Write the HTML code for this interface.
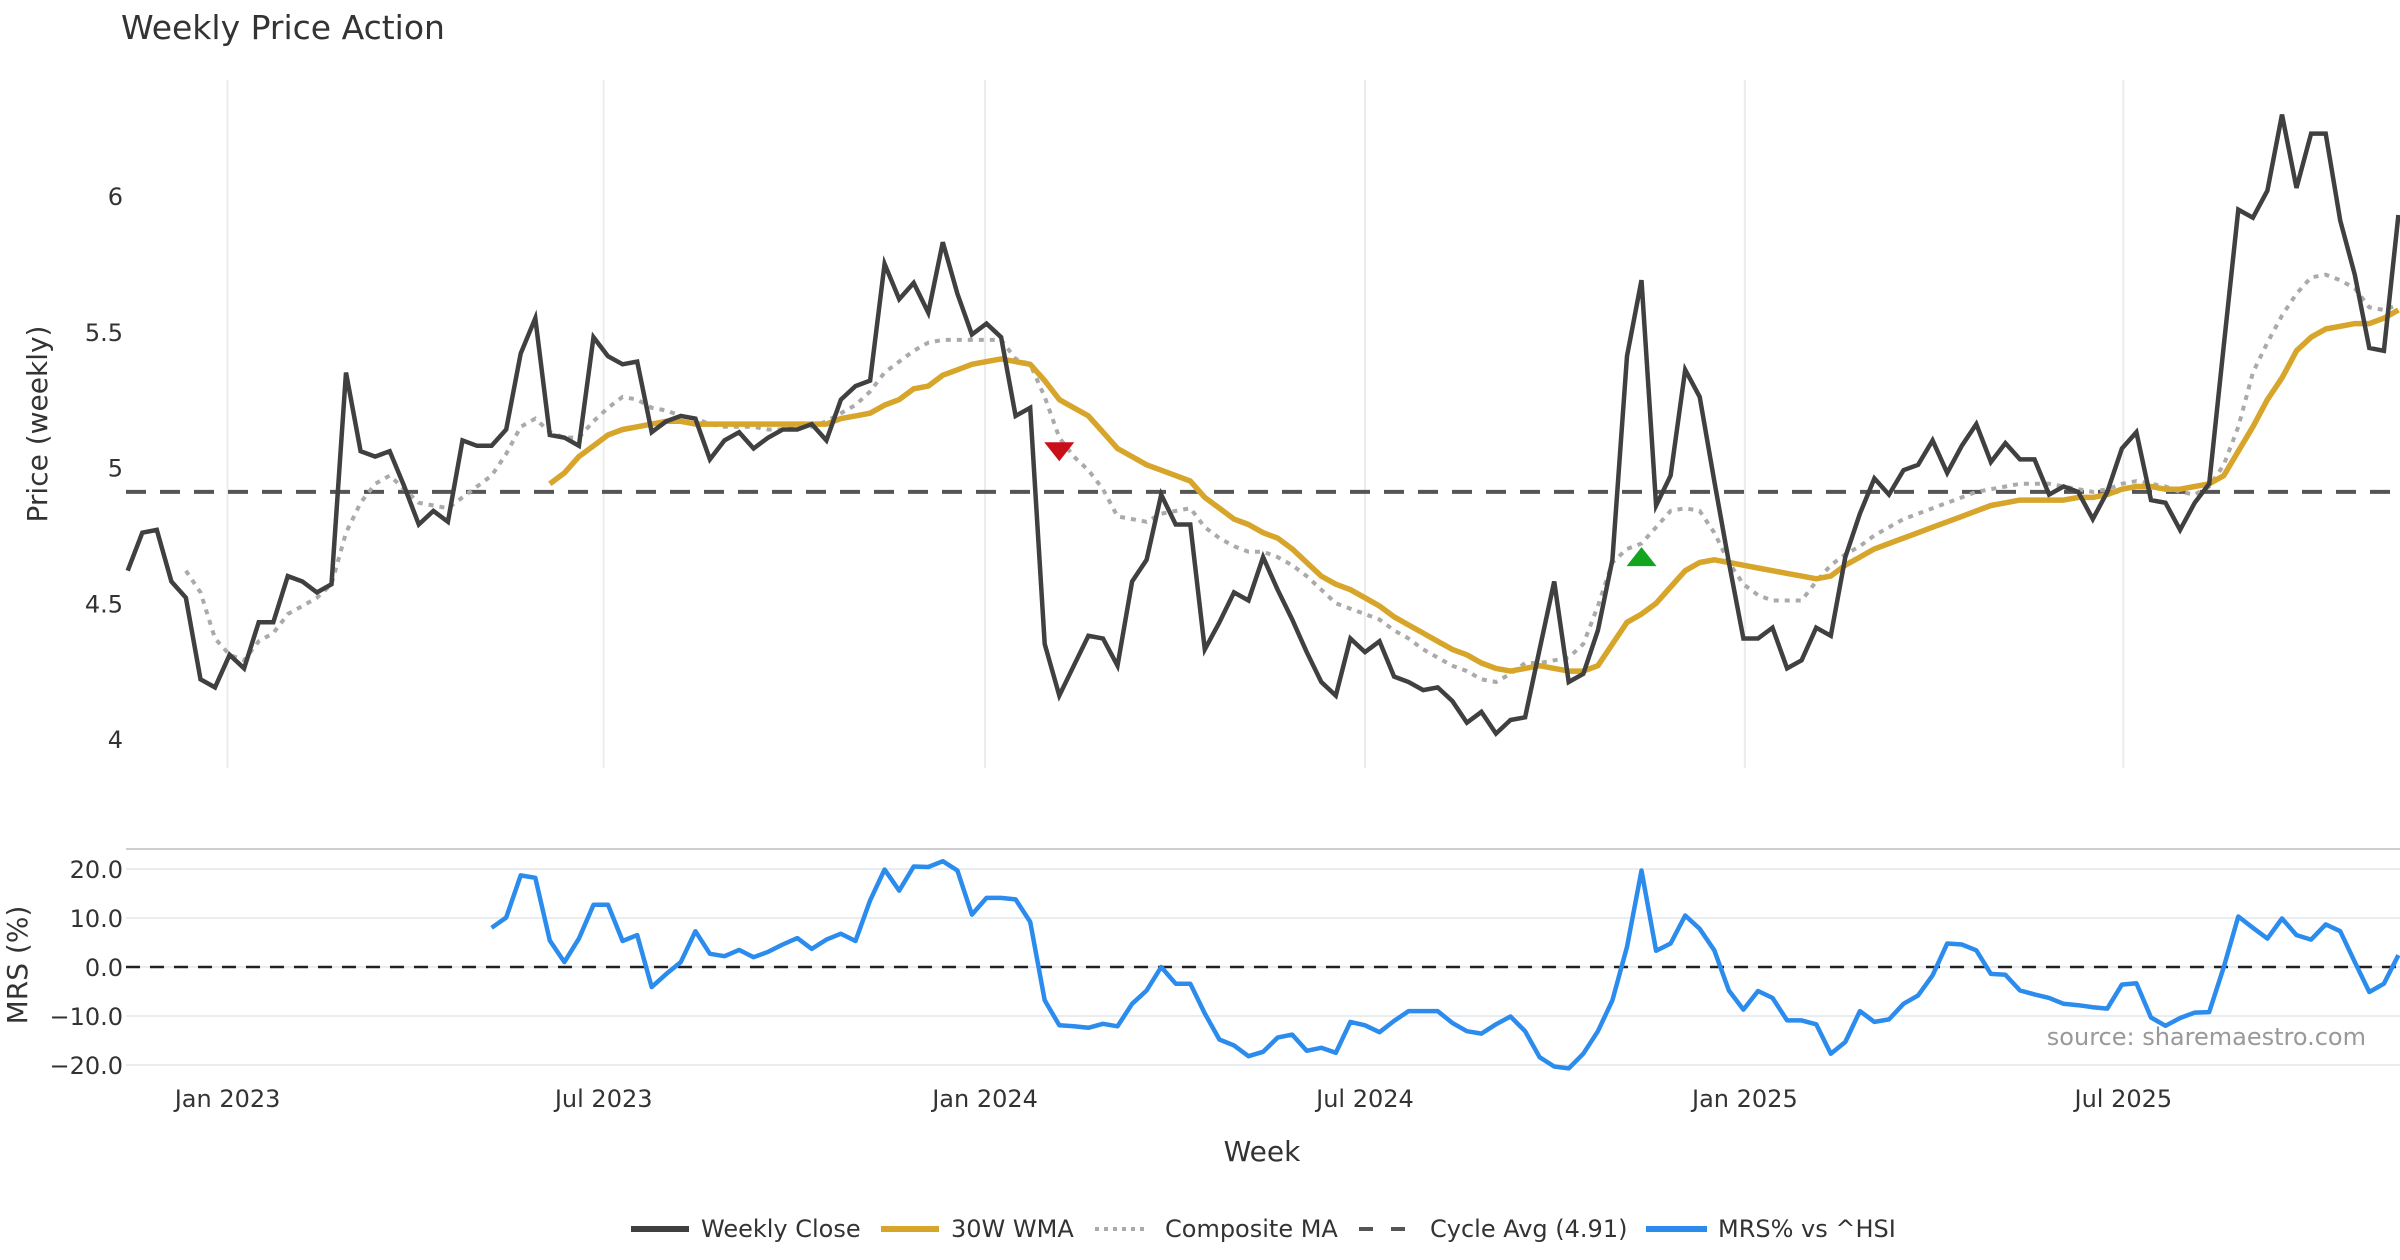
<!DOCTYPE html>
<html><head><meta charset="utf-8"><style>
html,body{margin:0;padding:0;background:#fff;}
svg{display:block;font-family:"DejaVu Sans","Liberation Sans",sans-serif;}
</style></head><body>
<svg id="chart" width="2400" height="1260" viewBox="0 0 2400 1260" xmlns="http://www.w3.org/2000/svg">
<rect width="2400" height="1260" fill="#fff"/>
<text x="121" y="39" font-size="33" fill="#333">Weekly Price Action</text>
<g id="grid"></g>
<g id="series"></g>
<g id="axes"></g>
<text transform="translate(47,424) rotate(-90)" text-anchor="middle" font-size="28" fill="#333">Price (weekly)</text>
<text transform="translate(27,965) rotate(-90)" text-anchor="middle" font-size="28" fill="#333">MRS (%)</text>
<text x="1262" y="1161" text-anchor="middle" font-size="28" fill="#333">Week</text>
<text x="2366" y="1045" text-anchor="end" font-size="24" fill="#999">source: sharemaestro.com</text>
<g id="legend" font-size="24" fill="#333">
<g><line x1="631" y1="1229" x2="689" y2="1229" stroke="#404040" stroke-width="6"/><text x="701" y="1237">Weekly Close</text></g>
<g><line x1="881" y1="1229" x2="939" y2="1229" stroke="#d6a52a" stroke-width="6"/><text x="951" y="1237">30W WMA</text></g>
<g><line x1="1095" y1="1229" x2="1149" y2="1229" stroke="#aaa" stroke-width="4" stroke-dasharray="4,5"/><text x="1165" y="1237">Composite MA</text></g>
<g><line x1="1359" y1="1229" x2="1412" y2="1229" stroke="#555" stroke-width="4" stroke-dasharray="14,18"/><text x="1430" y="1237">Cycle Avg (4.91)</text></g>
<g><line x1="1646" y1="1229" x2="1707" y2="1229" stroke="#2b8ced" stroke-width="6"/><text x="1718" y="1237">MRS% vs ^HSI</text></g>
</g>
</svg>
<script>
const closeStart = 0;
const closeValues = [4.62,4.76,4.77,4.58,4.52,4.22,4.19,4.31,4.26,4.43,4.43,4.60,4.58,4.54,4.57,5.35,5.06,5.04,5.06,4.93,4.79,4.84,4.80,5.10,5.08,5.08,5.14,5.42,5.55,5.12,5.11,5.08,5.48,5.41,5.38,5.39,5.13,5.17,5.19,5.18,5.03,5.10,5.13,
5.07,5.11,5.14,5.14,5.16,5.10,5.25,5.30,5.32,5.75,5.62,5.68,5.57,5.83,5.64,5.49,5.53,5.48,5.19,5.22,4.35,4.16,4.27,4.38,4.37,4.27,4.58,4.66,4.90,4.79,4.79,4.33,4.43,4.54,4.51,4.67,4.55,4.44,4.32,4.21,4.16,
4.37,4.32,4.36,4.23,4.21,4.18,4.19,4.14,4.06,4.10,4.02,4.07,4.08,4.33,4.58,4.21,4.24,4.40,4.66,5.41,5.69,4.86,4.97,5.36,5.26,4.95,4.65,4.37,4.37,4.41,4.26,4.29,4.41,4.38,4.67,4.83,4.96,4.90,4.99,5.01,5.10,
4.98,5.08,5.16,5.02,5.09,5.03,5.03,4.90,4.93,4.91,4.81,4.91,5.07,5.13,4.88,4.87,4.77,4.87,4.94,5.45,5.95,5.92,6.02,6.30,6.03,6.23,6.23,5.91,5.71,5.44,5.43,5.93];
const compositeStart = 4;
const compositeValues = [4.62,4.54,4.37,4.31,4.29,4.36,4.39,4.46,4.49,4.52,4.57,4.76,4.87,4.94,4.97,4.92,4.87,4.86,4.85,4.89,4.93,4.97,5.05,5.15,5.18,5.13,5.11,5.11,5.17,5.22,5.26,5.25,5.22,5.21,5.19,5.18,5.16,5.15,5.15,5.15,5.14,5.14,5.15,5.15,5.17,5.20,5.23,5.28,5.35,5.39,5.43,5.46,5.47,5.47,5.47,5.47,5.47,5.40,5.38,5.26,5.11,5.04,4.99,4.92,4.82,4.81,4.80,4.83,4.84,4.85,4.78,4.74,4.71,4.69,4.69,4.67,4.64,4.60,4.55,4.50,4.48,4.46,4.44,4.40,4.37,4.33,4.30,4.27,4.25,4.22,4.21,4.24,4.28,4.28,4.29,4.30,4.35,4.49,4.65,4.70,4.72,4.78,4.84,4.85,4.84,4.76,4.65,4.57,4.53,4.51,4.51,4.51,4.58,4.64,4.68,4.71,4.75,4.78,4.81,4.83,4.85,4.87,4.89,4.91,4.92,4.93,4.94,4.94,4.94,4.93,4.92,4.91,4.92,4.94,4.95,4.94,4.93,4.91,4.90,4.93,5.01,5.15,5.35,5.46,5.56,5.64,5.70,5.71,5.69,5.66,5.59,5.58,5.60];
const wmaStart = 29;
const wmaValues = [4.94,4.98,5.04,5.08,5.12,5.14,5.15,5.16,5.17,5.17,5.16,5.16,5.16,5.16,5.16,5.16,5.16,5.16,5.16,5.16,5.18,5.19,5.20,5.23,5.25,5.29,5.30,5.34,5.36,5.38,5.39,5.40,5.39,5.38,5.32,5.25,5.22,5.19,5.13,5.07,5.04,5.01,4.99,4.97,4.95,4.89,4.85,4.81,4.79,4.76,4.74,4.70,4.65,4.60,4.57,4.55,4.52,4.49,4.45,4.42,4.39,4.36,4.33,4.31,4.28,4.26,4.25,4.26,4.27,4.26,4.25,4.25,4.27,4.35,4.43,4.46,4.50,4.56,4.62,4.65,4.66,4.65,4.64,4.63,4.62,4.61,4.60,4.59,4.60,4.64,4.67,4.70,4.72,4.74,4.76,4.78,4.80,4.82,4.84,4.86,4.87,4.88,4.88,4.88,4.88,4.89,4.89,4.90,4.92,4.93,4.93,4.92,4.92,4.93,4.94,4.97,5.06,5.15,5.25,5.33,5.43,5.48,5.51,5.52,5.53,5.53,5.55,5.58];
const mrsStart = 25;
const mrsValues = [8.0,10.1,18.7,18.2,5.4,1.0,5.8,12.7,12.7,5.3,6.5,-4.1,-1.4,1.0,7.3,2.7,2.2,3.5,2.0,3.1,4.6,5.9,3.7,5.6,6.8,5.3,13.6,19.9,15.6,20.5,20.4,21.6,19.7,10.7,14.1,14.1,13.8,9.2,-6.8,-11.9,-12.1,-12.4,-11.6,-12.1,-7.5,-4.8,0,-3.4,-3.4,
-9.5,-14.8,-16.0,-18.2,-17.3,-14.4,-13.8,-17.1,-16.5,-17.5,-11.2,-11.9,-13.3,-11.0,-9.0,-9.0,-9.0,-11.4,-13.1,-13.6,-11.7,-10.1,-13.1,-18.4,-20.3,-20.7,-17.7,-13.1,-6.8,4.1,19.7,3.3,4.8,10.5,7.8,3.4,-4.8,-8.7,-4.9,-6.3,-10.9,-10.9,-11.7,-17.7,-15.3,-9.0,-11.2,-10.7,-7.5,-5.8,-1.7,4.8,4.6,3.4,-1.4,-1.6,-4.8,-5.6,-6.3,-7.5,-7.8,-8.2,-8.5,-3.6,-3.3,-10.3,-12.0,-10.4,-9.3,-9.2,0,10.3,8.0,5.8,9.9,6.5,5.6,8.7,7.3,1.0,-5.1,-3.4,2.4];
const cycleAvg = 4.91;
const sellSignalWeek = 64, sellSignalPrice = 5.06;
const buySignalWeek = 104, buySignalPrice = 4.67;
const priceTicks = [4, 4.5, 5, 5.5, 6];
const priceTickLabels = ["4","4.5","5","5.5","6"];
const mrsTicks = [-20, -10, 0, 10, 20];
const mrsTickLabels = ["\u221220.0","\u221210.0","0.0","10.0","20.0"];
const monthTickWeeks = [6.86, 32.7, 58.9, 85.0, 111.1, 137.1];
const monthTickLabels = ["Jan 2023","Jul 2023","Jan 2024","Jul 2024","Jan 2025","Jul 2025"];

const NS = "http://www.w3.org/2000/svg";
const X0 = 127.7, XSTEP = 14.556, PLOT_R = 2400;
function xScale(w){ return X0 + w * XSTEP; }
function yPrice(p){ return 196 + (6 - p) * 271.5; }
function yMrs(v){ return 967 - v * 4.9; }
function mk(tag, attrs, parent){
  const el = document.createElementNS(NS, tag);
  for (const k in attrs) el.setAttribute(k, attrs[k]);
  parent.appendChild(el);
  return el;
}
const grid = document.getElementById('grid');
const series = document.getElementById('series');
const axes = document.getElementById('axes');

// vertical gridlines in price panel + x tick labels
monthTickWeeks.forEach((w, i) => {
  const x = xScale(w);
  const g = mk('line', {x1:x, y1:80, x2:x, y2:768, stroke:'#ececec', 'stroke-width':2}, grid);
  
  
  const t = mk('text', {x:x, y:1107, 'text-anchor':'middle', 'font-size':24, fill:'#333'}, axes);
  t.textContent = monthTickLabels[i];
  
  
});
// price ticks
priceTicks.forEach((p, i) => {
  const t = mk('text', {x:123, y:yPrice(p) + 9, 'text-anchor':'end', 'font-size':24, fill:'#333'}, axes);
  t.textContent = priceTickLabels[i];
  
  
});
// mrs gridlines + ticks
mrsTicks.forEach((v, i) => {
  const y = yMrs(v);
  const g = mk('line', {x1:126, y1:y, x2:PLOT_R, y2:y, stroke:'#e9edf0', 'stroke-width':2}, grid);
  
  
  const t = mk('text', {x:123, y:y + 9, 'text-anchor':'end', 'font-size':24, fill:'#333'}, axes);
  t.textContent = mrsTickLabels[i];
  
  
});
const sep = mk('line', {x1:126, y1:849, x2:PLOT_R, y2:849, stroke:'#cfcfcf', 'stroke-width':2}, grid);



function pathFrom(start, vals, yf){
  return vals.map((v, i) => (i ? 'L' : 'M') + xScale(start + i).toFixed(1) + ' ' + yf(v).toFixed(1)).join(' ');
}
// cycle avg
const ca = mk('line', {x1:126, y1:yPrice(cycleAvg), x2:PLOT_R, y2:yPrice(cycleAvg), stroke:'#555', 'stroke-width':4, 'stroke-dasharray':'20,14'}, series);


// composite
const cp = mk('path', {d:pathFrom(compositeStart, compositeValues, yPrice), fill:'none', stroke:'#aaa', 'stroke-width':4, 'stroke-dasharray':'5,6'}, series);


// wma
const wm = mk('path', {d:pathFrom(wmaStart, wmaValues, yPrice), fill:'none', stroke:'#d6a52a', 'stroke-width':5.5, 'stroke-linejoin':'round'}, series);


// close
const cl = mk('path', {d:pathFrom(closeStart, closeValues, yPrice), fill:'none', stroke:'#404040', 'stroke-width':4.5, 'stroke-linejoin':'miter'}, series);


// signals
{
  const x = xScale(sellSignalWeek), y = yPrice(sellSignalPrice);
  const s = mk('path', {d:`M${x-15} ${y-9} L${x+15} ${y-9} L${x} ${y+10} Z`, fill:'#c8101a'}, series);
  
  
  const x2 = xScale(buySignalWeek), y2 = yPrice(buySignalPrice);
  const b = mk('path', {d:`M${x2-15} ${y2+9} L${x2+15} ${y2+9} L${x2} ${y2-10} Z`, fill:'#13a51f'}, series);
  
  
}
// mrs zero line
const z = mk('line', {x1:126, y1:yMrs(0), x2:PLOT_R, y2:yMrs(0), stroke:'#222', 'stroke-width':2.5, 'stroke-dasharray':'14,10'}, series);


const mr = mk('path', {d:pathFrom(mrsStart, mrsValues, yMrs), fill:'none', stroke:'#2b8ced', 'stroke-width':4.5, 'stroke-linejoin':'round'}, series);


</script>
</body></html>
